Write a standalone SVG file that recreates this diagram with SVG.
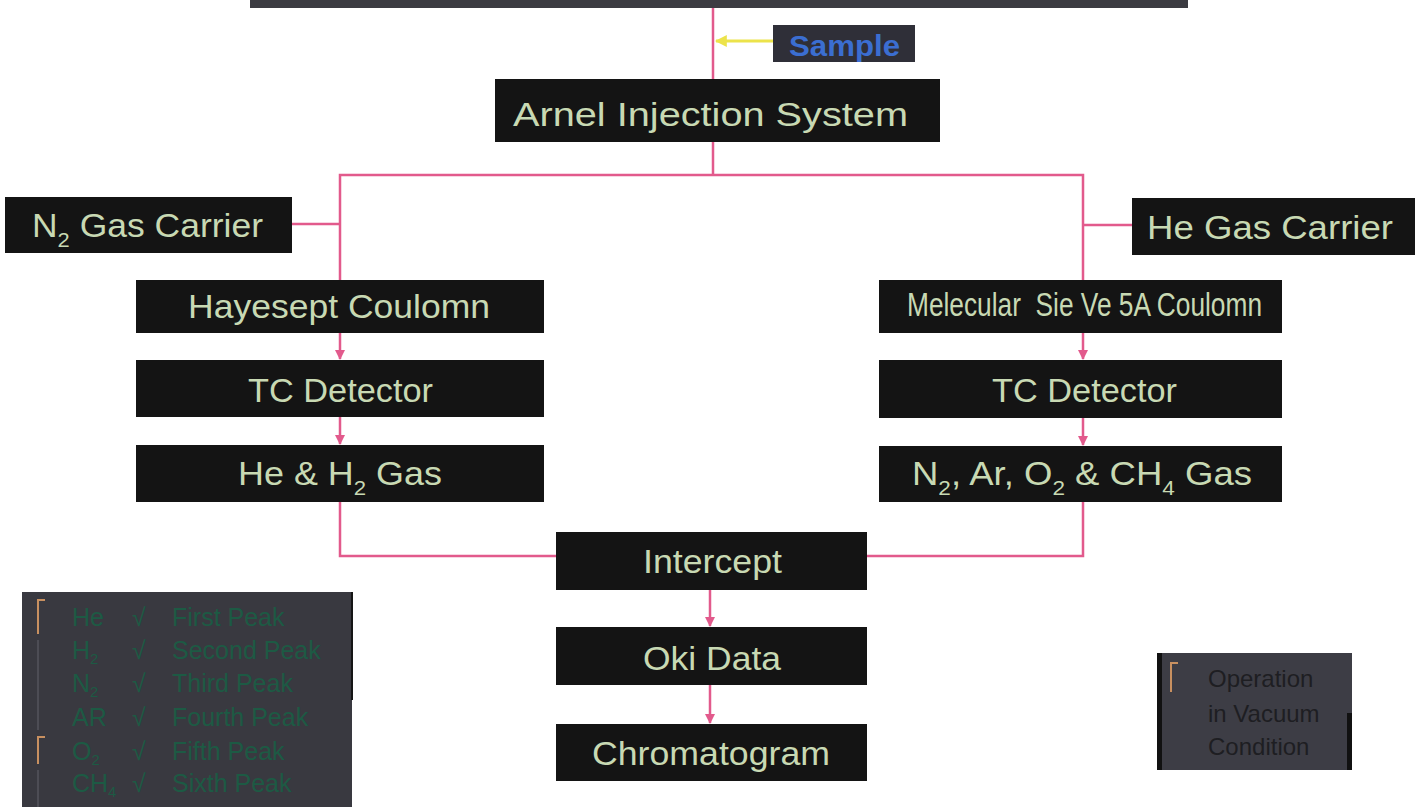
<svg xmlns="http://www.w3.org/2000/svg" width="1422" height="807" viewBox="0 0 1422 807">
<defs>
<style>
.box{fill:#141414}
.t{font-family:"Liberation Sans",Arial,sans-serif;fill:#c8d9b3;font-size:34px}
.sub{font-size:21px}
.ln{fill:none;stroke:#e25a8c;stroke-width:2.5}
.lg{font-family:"Liberation Sans",Arial,sans-serif;fill:#1d5a44;font-size:25px}
.lgs{font-size:15px}
.vac{font-family:"Liberation Sans",Arial,sans-serif;fill:#1e1e22;font-size:24px}
.br{fill:none;stroke:#c89060;stroke-width:2}
</style>
<marker id="ah" viewBox="0 0 10 10" refX="9" refY="5" markerWidth="4" markerHeight="4" orient="auto">
<path d="M0,0 L10,5 L0,10 z" fill="#e25a8c"/>
</marker>
<marker id="ay" viewBox="0 0 10 10" refX="9" refY="5" markerWidth="4" markerHeight="4" orient="auto">
<path d="M0,0 L10,5 L0,10 z" fill="#ece34a"/>
</marker>
</defs>
<rect width="1422" height="807" fill="#ffffff"/>

<g id="connectors">
<line class="ln" x1="713" y1="8" x2="713" y2="79"/>
<line x1="773" y1="41" x2="716" y2="41" stroke="#ece34a" stroke-width="3" marker-end="url(#ay)"/>
<polyline class="ln" points="713,142 713,175"/>
<polyline class="ln" points="340,280 340,175 1083,175 1083,280"/>
<line class="ln" x1="292" y1="224" x2="340" y2="224"/>
<line class="ln" x1="1083" y1="225" x2="1132" y2="225"/>
<line class="ln" x1="340" y1="333" x2="340" y2="359" marker-end="url(#ah)"/>
<line class="ln" x1="340" y1="417" x2="340" y2="444" marker-end="url(#ah)"/>
<line class="ln" x1="1083" y1="333" x2="1083" y2="359" marker-end="url(#ah)"/>
<line class="ln" x1="1083" y1="418" x2="1083" y2="445" marker-end="url(#ah)"/>
<polyline class="ln" points="340,502 340,556 556,556"/>
<polyline class="ln" points="1083,502 1083,556 867,556"/>
<line class="ln" x1="710" y1="590" x2="710" y2="626" marker-end="url(#ah)"/>
<line class="ln" x1="710" y1="685" x2="710" y2="723" marker-end="url(#ah)"/>
</g>

<g id="top-box"><rect x="250" y="-5" width="938" height="13" fill="#3c3c42"/></g>

<g id="sample">
<rect x="773" y="25" width="142" height="37" fill="#2f2f38"/>
<text x="789" y="56" font-family="'Liberation Sans',Arial,sans-serif" font-weight="bold" font-size="30" fill="#3b6ed1" textLength="111" lengthAdjust="spacingAndGlyphs">Sample</text>
</g>

<g id="arnel">
<rect class="box" x="495" y="79" width="445" height="63"/>
<text class="t" x="513" y="126" font-size="41" textLength="395" lengthAdjust="spacingAndGlyphs">Arnel Injection System</text>
</g>

<g id="n2-carrier">
<rect class="box" x="5" y="197" width="287" height="56"/>
<text class="t" x="32" y="237" textLength="231" lengthAdjust="spacingAndGlyphs">N<tspan class="sub" dy="10">2</tspan><tspan dy="-10"> Gas Carrier</tspan></text>
</g>

<g id="he-carrier">
<rect class="box" x="1132" y="198" width="283" height="57"/>
<text class="t" x="1147" y="239" textLength="246" lengthAdjust="spacingAndGlyphs">He Gas Carrier</text>
</g>

<g id="hayesept">
<rect class="box" x="136" y="280" width="408" height="53"/>
<text class="t" x="188" y="318" textLength="302" lengthAdjust="spacingAndGlyphs">Hayesept Coulomn</text>
</g>

<g id="tc-left">
<rect class="box" x="136" y="360" width="408" height="57"/>
<text class="t" x="248" y="402" textLength="185" lengthAdjust="spacingAndGlyphs">TC Detector</text>
</g>

<g id="he-h2">
<rect class="box" x="136" y="445" width="408" height="57"/>
<text class="t" x="238" y="485" textLength="204" lengthAdjust="spacingAndGlyphs">He &amp; H<tspan class="sub" dy="10">2</tspan><tspan dy="-10"> Gas</tspan></text>
</g>

<g id="molsieve">
<rect class="box" x="879" y="280" width="403" height="53"/>
<text class="t" x="907" y="316" font-size="28" textLength="355" lengthAdjust="spacingAndGlyphs" xml:space="preserve">Melecular  Sie Ve 5A Coulomn</text>
</g>

<g id="tc-right">
<rect class="box" x="879" y="360" width="403" height="58"/>
<text class="t" x="992" y="402" textLength="185" lengthAdjust="spacingAndGlyphs">TC Detector</text>
</g>

<g id="n2-ar">
<rect class="box" x="879" y="446" width="403" height="56"/>
<text class="t" x="912" y="485" textLength="340" lengthAdjust="spacingAndGlyphs">N<tspan class="sub" dy="10">2</tspan><tspan dy="-10">, Ar, O</tspan><tspan class="sub" dy="10">2</tspan><tspan dy="-10"> &amp; CH</tspan><tspan class="sub" dy="10">4</tspan><tspan dy="-10"> Gas</tspan></text>
</g>

<g id="intercept">
<rect class="box" x="556" y="532" width="311" height="58"/>
<text class="t" x="643" y="573" textLength="139" lengthAdjust="spacingAndGlyphs">Intercept</text>
</g>

<g id="oki">
<rect class="box" x="556" y="627" width="311" height="58"/>
<text class="t" x="643" y="670" textLength="138" lengthAdjust="spacingAndGlyphs">Oki Data</text>
</g>

<g id="chromatogram">
<rect class="box" x="556" y="724" width="311" height="57"/>
<text class="t" x="592" y="765" textLength="238" lengthAdjust="spacingAndGlyphs">Chromatogram</text>
</g>

<g id="legend">
<rect x="22" y="592" width="330" height="220" fill="#393940"/>
<line x1="352" y1="592" x2="352" y2="700" stroke="#151515" stroke-width="2"/>
<path class="br" d="M45,600 L38,600 L38,634"/>
<path class="br" d="M45,737 L38,737 L38,764"/>
<line x1="38" y1="640" x2="38" y2="730" stroke="#55555c" stroke-width="1.5"/>
<line x1="38" y1="770" x2="38" y2="807" stroke="#55555c" stroke-width="1.5"/>
<text class="lg" x="72" y="626">He</text><text class="lg" x="132" y="626">√</text><text class="lg" x="172" y="626">First Peak</text>
<text class="lg" x="72" y="659">H<tspan class="lgs" dy="5">2</tspan></text><text class="lg" x="132" y="659">√</text><text class="lg" x="172" y="659">Second Peak</text>
<text class="lg" x="72" y="692">N<tspan class="lgs" dy="5">2</tspan></text><text class="lg" x="132" y="692">√</text><text class="lg" x="172" y="692">Third Peak</text>
<text class="lg" x="72" y="726">AR</text><text class="lg" x="132" y="726">√</text><text class="lg" x="172" y="726">Fourth Peak</text>
<text class="lg" x="72" y="760">O<tspan class="lgs" dy="5">2</tspan></text><text class="lg" x="132" y="760">√</text><text class="lg" x="172" y="760">Fifth Peak</text>
<text class="lg" x="72" y="792">CH<tspan class="lgs" dy="5">4</tspan></text><text class="lg" x="132" y="792">√</text><text class="lg" x="172" y="792">Sixth Peak</text>
</g>

<g id="vacuum">
<rect x="1157" y="653" width="195" height="117" fill="#3d3d45"/>
<rect x="1157" y="653" width="5" height="117" fill="#111"/>
<rect x="1347" y="713" width="5" height="57" fill="#111"/>
<path class="br" d="M1178,663 L1171,663 L1171,692"/>
<text class="vac" x="1208" y="687">Operation</text>
<text class="vac" x="1208" y="722">in Vacuum</text>
<text class="vac" x="1208" y="755">Condition</text>
</g>
</svg>
